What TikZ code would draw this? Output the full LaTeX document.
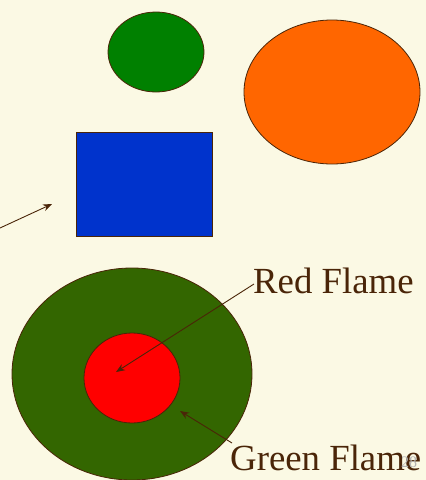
\documentclass[tikz,border=0pt]{standalone}
\usepackage{fontspec}
\setmainfont{Liberation Serif}
\usetikzlibrary{arrows.meta}
\definecolor{bg}{HTML}{FBF9E4}
\definecolor{ink}{HTML}{4A2508}
\definecolor{gsmall}{HTML}{008000}
\definecolor{orng}{HTML}{FF6600}
\definecolor{blu}{HTML}{0033CC}
\definecolor{dgreen}{HTML}{336600}
\definecolor{rd}{HTML}{FF0000}
\tikzset{
  blob/.style={draw=ink, line width=0.8pt},
  pointer/.style={draw=ink, line width=0.9pt, -{Stealth[length=9pt,width=7pt]}},
  lbl/.style={text=ink, font=\fontsize{36.8}{40}\selectfont, inner sep=0pt, anchor=base west}
}
\begin{document}
\begin{tikzpicture}[x=1pt,y=-1pt]
\fill[bg] (0,0) rectangle (426,480);
\useasboundingbox (0,0) rectangle (426,480);
\filldraw[blob, fill=gsmall] (156,52) ellipse [x radius=48, y radius=40];
\filldraw[blob, fill=orng] (332,92) ellipse [x radius=88, y radius=72];
\filldraw[blob, fill=blu] (76,132) rectangle (212,236);
\coordinate (s1) at (0,228);
\coordinate (t1) at (52,204);
\draw[pointer] (s1) -- (t1);
\filldraw[blob, fill=dgreen] (132,374) ellipse [x radius=120, y radius=106];
\filldraw[blob, fill=rd] (132,378) ellipse [x radius=48, y radius=45];
\node[lbl] (red) at (253,293) {Red Flame};
\node[lbl] (green) at (230,470) {Green Flame};
\node[text=gray!60, font=\fontsize{16}{18}\selectfont, inner sep=0pt, anchor=base west] (pg) at (401,467) {28};
\coordinate (rt) at (116,372);
\coordinate (gt) at (180,411);
\coordinate (rs) at (254,284);
\coordinate (gs) at (232,443);
\draw[pointer] (rs) -- (rt);
\draw[pointer] (gs) -- (gt);
\end{tikzpicture}
\end{document}
